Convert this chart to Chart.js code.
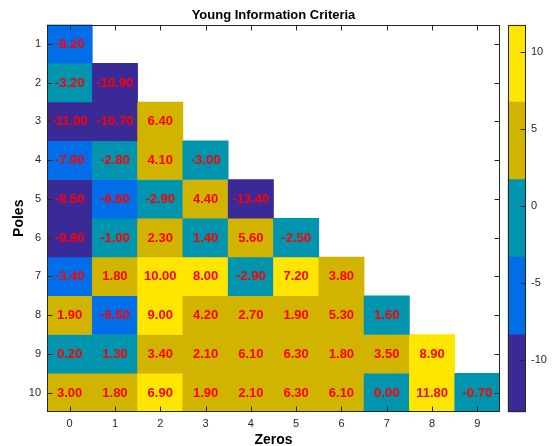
<!DOCTYPE html>
<html><head><meta charset="utf-8">
<script src="https://cdn.jsdelivr.net/npm/chart.js@4/dist/chart.umd.min.js"></script>
<style>
html,body{margin:0;padding:0;background:#fff;}
#wrap{position:relative;width:555px;height:446px;}
canvas{position:absolute;left:0;top:0;}
</style>
</head><body>
<div id="wrap"><canvas id="main" width="555" height="446"></canvas><canvas id="cbar" width="555" height="446"></canvas></div>
<script>
// ---- data ----
const zeros = ['0','1','2','3','4','5','6','7','8','9'];
const poles = [1,2,3,4,5,6,7,8,9,10];
const pole1  = [-8.20];
const pole2  = [-3.20, -10.90];
const pole3  = [-11.00, -10.70, 6.40];
const pole4  = [-7.90, -2.80, 4.10, -3.00];
const pole5  = [-8.50, -6.60, -2.90, 4.40, -13.40];
const pole6  = [-9.80, -1.00, 2.30, 1.40, 5.60, -2.50];
const pole7  = [-3.40, 1.80, 10.00, 8.00, -2.90, 7.20, 3.80];
const pole8  = [1.90, -6.50, 9.00, 4.20, 2.70, 1.90, 5.30, 1.60];
const pole9  = [0.20, 1.30, 3.40, 2.10, 6.10, 6.30, 1.80, 3.50, 8.90];
const pole10 = [3.00, 1.80, 6.90, 1.90, 2.10, 6.30, 6.10, 0.00, 11.80, -0.70];
const poleRows = [pole1,pole2,pole3,pole4,pole5,pole6,pole7,pole8,pole9,pole10];
const colorLevels = [-13.4, -8.36, -3.32, 1.72, 6.76, 11.8];
const colorTicks = [-10, -5, 0, 5, 10];
const titleText = 'Young Information Criteria';

// ---- styles ----
const levelColors = ['#3A2A98','#006EE8','#0095AF','#D0B400','#FFE600'];
const FONT = 'Liberation Sans, Arial, Helvetica, sans-serif';
const AXC = '#262626';

function colorFor(v){
  for (let k=0;k<levelColors.length;k++){ if (v < colorLevels[k+1]) return levelColors[k]; }
  return levelColors[levelColors.length-1];
}

function frameAndTicks(chart, ticksX, ticksY, sides){
  const ctx = chart.ctx, a = chart.chartArea;
  ctx.save();
  ctx.strokeStyle = AXC; ctx.lineWidth = 1;
  const L = Math.round(a.left)+0.5, R = Math.round(a.right)-0.5, T = Math.round(a.top)+0.5, B = Math.round(a.bottom)-0.5;
  ctx.beginPath();
  if (ticksX) {
    const xs = chart.scales.x;
    ticksX.forEach((v,i)=>{ const px = Math.round(xs.getPixelForValue(i))+0.5;
      ctx.moveTo(px,B); ctx.lineTo(px,B-5); ctx.moveTo(px,T); ctx.lineTo(px,T+5); });
  }
  if (ticksY) {
    const ys = chart.scales.y;
    ticksY.forEach(v=>{ const py = Math.round(ys.getPixelForValue(v))+0.5;
      if (sides.left){ ctx.moveTo(L,py); ctx.lineTo(L+5,py); }
      if (sides.right){ ctx.moveTo(R,py); ctx.lineTo(R-5,py); } });
  }
  ctx.stroke();
  ctx.strokeRect(L, T, R-L, B-T);
  ctx.restore();
}

const mainPlugin = {
  id: 'mainDecor',
  afterDatasetsDraw(chart){
    const ctx = chart.ctx, a = chart.chartArea;
    ctx.save();
    ctx.fillStyle = '#FF0000';
    ctx.font = 'bold 13px ' + FONT;
    ctx.textAlign = 'center'; ctx.textBaseline = 'middle';
    chart.data.datasets.forEach((ds, i)=>{
      const meta = chart.getDatasetMeta(i);
      ds.values.forEach((v, j)=>{
        const el = meta.data[j];
        if (!el) return;
        ctx.fillText(v.toFixed(2), el.x, (el.y + el.base)/2 + 0.5);
      });
    });
    ctx.fillStyle = '#000';
    ctx.font = 'bold 13px ' + FONT;
    ctx.fillText(titleText, (a.left + a.right)/2, 15);
    ctx.restore();
    frameAndTicks(chart, zeros, poles, {left:true, right:true});
  }
};

new Chart(document.getElementById('main'), {
  type: 'bar',
  data: {
    labels: zeros,
    datasets: poles.map((p, i)=>({
      label: 'Poles ' + p,
      values: poleRows[i],
      data: zeros.map((z, j)=> j < poleRows[i].length ? [p-0.5, p+0.5] : null),
      backgroundColor: zeros.map((z, j)=> j < poleRows[i].length ? colorFor(poleRows[i][j]) : 'rgba(0,0,0,0)'),
      borderWidth: 0, grouped: false, barPercentage: 1, categoryPercentage: 1
    }))
  },
  options: {
    responsive: false, animation: false, devicePixelRatio: 1,
    layout: { padding: { top: 24.5, right: 55, bottom: 0, left: 0 } },
    plugins: { legend: { display: false }, tooltip: { enabled: false }, title: { display: false } },
    scales: {
      x: {
        type: 'category', offset: true,
        grid: { display: false, drawTicks: false }, border: { display: false },
        ticks: { padding: 5, color: AXC, font: { family: FONT, size: 11 } },
        title: { display: true, text: 'Zeros', color: '#000', font: { family: FONT, size: 14, weight: 'bold', lineHeight: 0.9 }, padding: { top: 0, bottom: 0 } },
        afterFit(s){ s.height = 34; }
      },
      y: {
        type: 'linear', reverse: true, min: 0.5, max: 10.5,
        afterBuildTicks(s){ s.ticks = poles.map(v=>({ value: v })); },
        grid: { display: false, drawTicks: false }, border: { display: false },
        ticks: { padding: 6, color: AXC, font: { family: FONT, size: 11 } },
        title: { display: true, text: 'Poles', color: '#000', font: { family: FONT, size: 14, weight: 'bold', lineHeight: 1 }, padding: { top: 12, bottom: 0 } },
        afterFit(s){ s.width = 47; }
      }
    }
  },
  plugins: [mainPlugin]
});

const cbarPlugin = {
  id: 'cbarDecor',
  afterDatasetsDraw(chart){ frameAndTicks(chart, null, colorTicks, {left:false, right:true}); }
};

new Chart(document.getElementById('cbar'), {
  type: 'bar',
  data: {
    labels: [''],
    datasets: levelColors.map((c, k)=>({
      label: 'level ' + k,
      data: [[colorLevels[k], colorLevels[k+1]]],
      backgroundColor: c, borderWidth: 0, grouped: false, barPercentage: 1, categoryPercentage: 1
    }))
  },
  options: {
    responsive: false, animation: false, devicePixelRatio: 1,
    layout: { padding: { left: 507.7, top: 24.5, right: 0, bottom: 33.7 } },
    plugins: { legend: { display: false }, tooltip: { enabled: false } },
    scales: {
      x: { display: false, offset: true },
      y: {
        type: 'linear', position: 'right', min: colorLevels[0], max: colorLevels[colorLevels.length-1],
        afterBuildTicks(s){ s.ticks = colorTicks.map(v=>({ value: v })); },
        grid: { display: false, drawTicks: false }, border: { display: false },
        ticks: { padding: 5, color: AXC, font: { family: FONT, size: 11 } },
        afterFit(s){ s.width = 29; }
      }
    }
  },
  plugins: [cbarPlugin]
});
</script>
</body></html>
